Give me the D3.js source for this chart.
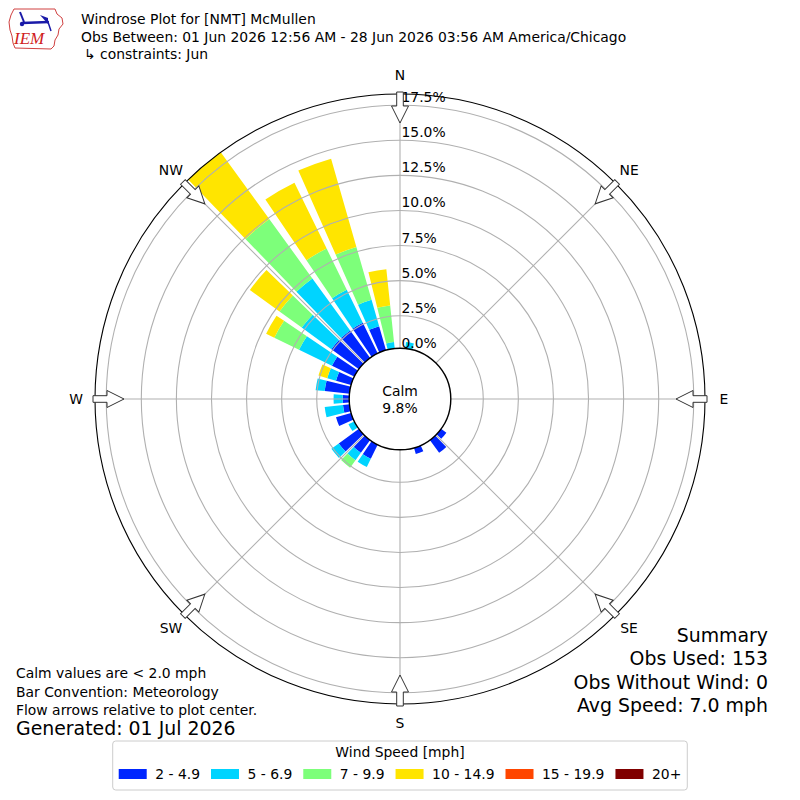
<!DOCTYPE html>
<html lang="en">
<head>
<meta charset="UTF-8">
<title>Windrose Plot for [NMT] McMullen</title>
<script src="https://cdnjs.cloudflare.com/ajax/libs/d3/7.8.5/d3.min.js"></script>
<style>
  html, body { margin: 0; padding: 0; background: #fff; }
  svg { display: block; font-family: "DejaVu Sans", sans-serif; }
</style>
</head>
<body>
<div id="chart"></div>
<script>
// 10 degree direction bins (meteorological, wind FROM) that have obs
var directions = [10, 130, 140, 160, 210, 220, 230, 240, 250, 260, 270, 280, 290, 300, 310, 320, 330, 340, 350];
// percent of all obs, one array per speed bin, same order as directions
var spd2to5   = [0, 0.65, 1.31, 0.65, 1.31, 1.31, 1.96, 0, 1.31, 0.65, 0.65, 1.96, 1.31, 1.96, 2.61, 2.61, 2.61, 1.96, 0];
var spd5to7   = [0.65, 0, 0, 0, 0.65, 0.65, 0.65, 0.65, 0, 1.31, 0.65, 0.65, 0.65, 2.61, 2.61, 4.58, 2.61, 1.96, 0.65];
var spd7to10  = [0, 0, 0, 0, 0, 0.65, 0, 0, 0, 0, 0, 0, 0, 1.96, 1.96, 5.23, 3.27, 3.92, 2.61];
var spd10to15 = [0, 0, 0, 0, 0, 0, 0, 0, 0, 0, 0, 0, 0.65, 0.65, 2.61, 5.88, 5.23, 6.54, 2.61];
var spd15to20 = [0, 0, 0, 0, 0, 0, 0, 0, 0, 0, 0, 0, 0, 0, 0, 0, 0, 0, 0];
var spd20up   = [0, 0, 0, 0, 0, 0, 0, 0, 0, 0, 0, 0, 0, 0, 0, 0, 0, 0, 0];

var speedLabels = ["2 - 4.9", "5 - 6.9", "7 - 9.9", "10 - 14.9", "15 - 19.9", "20+"];
var speedColors = ["#0026ff", "#00d4ff", "#7dff7a", "#ffe500", "#ff4600", "#800000"];
var rTicks = [0, 2.5, 5, 7.5, 10, 12.5, 15, 17.5];
var compass = ["N", "NE", "E", "SE", "S", "SW", "W", "NW"];
var calmPct = 9.8;

var titleLines = ["Windrose Plot for [NMT] McMullen",
  "Obs Between: 01 Jun 2026 12:56 AM - 28 Jun 2026 03:56 AM America/Chicago",
  "\u21b3 constraints: Jun"];
var noteLines = ["Calm values are < 2.0 mph", "Bar Convention: Meteorology", "Flow arrows relative to plot center."];
var summaryLines = ["Summary", "Obs Used: 153", "Obs Without Wind: 0", "Avg Speed: 7.0 mph"];

var W = 800, H = 800;
var cx = 400, cy = 399;
var outerR = 305;

var svg = d3.select("#chart").append("svg")
  .attr("width", W).attr("height", H);

// stack the speed bins per direction
var series = [spd2to5, spd5to7, spd7to10, spd10to15, spd15to20, spd20up];
var bars = [];
directions.forEach(function(dir, i) {
  var lo = 0;
  series.forEach(function(s, k) {
    var v = s[i];
    if (v > 0) bars.push({dir: dir, lo: lo, hi: lo + v, k: k});
    lo += v;
  });
});
var rMax = d3.max(directions, function(d, i) {
  return d3.sum(series, function(s) { return s[i]; });
});

var rScale = d3.scaleLinear().domain([0, rMax]).range([48.2, outerR]);
var rad = function(deg) { return deg * Math.PI / 180; };

var g = svg.append("g").attr("transform", "translate(" + cx + "," + cy + ")");

// bars
var arc = d3.arc()
  .innerRadius(function(d) { return rScale(d.lo); })
  .outerRadius(function(d) { return rScale(d.hi); })
  .startAngle(function(d) { return rad(d.dir - 4); })
  .endAngle(function(d) { return rad(d.dir + 4); });

g.selectAll("path.bar").data(bars).enter().append("path")
  .attr("class", "bar")
  .attr("d", arc)
  .attr("fill", function(d) { return speedColors[d.k]; });

// grid rings + spokes on top of bars
g.selectAll("circle.ring").data(rTicks.slice(1)).enter().append("circle")
  .attr("r", function(d) { return rScale(d); })
  .attr("fill", "none").attr("stroke", "#b0b0b0").attr("stroke-width", 1.1);

g.selectAll("line.spoke").data(d3.range(0, 360, 45)).enter().append("line")
  .attr("x1", function(d) { return rScale(0) * Math.sin(rad(d)); })
  .attr("y1", function(d) { return -rScale(0) * Math.cos(rad(d)); })
  .attr("x2", function(d) { return outerR * Math.sin(rad(d)); })
  .attr("y2", function(d) { return -outerR * Math.cos(rad(d)); })
  .attr("stroke", "#b0b0b0").attr("stroke-width", 1.1);

g.append("circle").attr("r", outerR)
  .attr("fill", "none").attr("stroke", "#000").attr("stroke-width", 1.1);

// percent labels along north spoke
g.selectAll("text.rlab").data(rTicks).enter().append("text")
  .attr("x", 1.5)
  .attr("y", function(d) { return -rScale(d) - 8; })
  .attr("dominant-baseline", "central")
  .attr("font-size", "13.9px")
  .text(function(d) { return d.toFixed(1) + "%"; });

// calm circle
g.append("circle").attr("r", 50.8)
  .attr("fill", "#fff").attr("stroke", "#000").attr("stroke-width", 1.4);
g.append("text").attr("y", -8).attr("text-anchor", "middle").attr("dominant-baseline", "central")
  .attr("font-size", "13.9px").text("Calm");
g.append("text").attr("y", 9).attr("text-anchor", "middle").attr("dominant-baseline", "central")
  .attr("font-size", "13.9px").text(calmPct.toFixed(1) + "%");

// flow arrows pointing to center
var arrowPts = [[-3.3, -307], [3.3, -307], [3.3, -293], [8.5, -293], [0, -276], [-8.5, -293], [-3.3, -293]];
g.selectAll("path.arrow").data(d3.range(0, 360, 45)).enter().append("path")
  .attr("d", "M" + arrowPts.map(function(p) { return p.join(","); }).join("L") + "Z")
  .attr("transform", function(d) { return "rotate(" + d + ")"; })
  .attr("fill", "#fff").attr("stroke", "#333").attr("stroke-width", 1);

// compass labels
g.selectAll("text.cmp").data(compass).enter().append("text")
  .attr("x", function(d, i) { return 324 * Math.sin(rad(i * 45)); })
  .attr("y", function(d, i) { return -324 * Math.cos(rad(i * 45)); })
  .attr("text-anchor", "middle").attr("dominant-baseline", "central")
  .attr("font-size", "13.9px")
  .text(function(d) { return d; });

// title
svg.selectAll("text.title").data(titleLines).enter().append("text")
  .attr("x", function(d, i) { return i == 2 ? 84 : 81; })
  .attr("y", function(d, i) { return 19 + i * 17.6; })
  .attr("dominant-baseline", "central")
  .attr("font-size", "13.9px")
  .text(function(d) { return d; });

// IEM logo (rough)
var logo = svg.append("g");
logo.append("path")
  .attr("d", "M14,9 L55,9 L57,14 L62,18 L63,24 L59,29 L58,35 L55,40 L54,46 L51,49 L15,48 L13,43 L12,36 L10,30 L9,22 L11,15 Z")
  .attr("fill", "none").attr("stroke", "#d04040").attr("stroke-width", 1);
logo.append("line").attr("x1", 22).attr("y1", 23).attr("x2", 49).attr("y2", 22)
  .attr("stroke", "#1a1aa8").attr("stroke-width", 2.5);
logo.append("line").attr("x1", 20).attr("y1", 12).attr("x2", 24).attr("y2", 22)
  .attr("stroke", "#1a1aa8").attr("stroke-width", 2);
logo.append("circle").attr("cx", 22).attr("cy", 24).attr("r", 2.2).attr("fill", "#1a1aa8");
logo.append("path").attr("d", "M40,15 L48,18 L48,24 Z").attr("fill", "#1a1aa8");
logo.append("line").attr("x1", 48).attr("y1", 22).attr("x2", 51).attr("y2", 31)
  .attr("stroke", "#1a1aa8").attr("stroke-width", 1.5);
logo.append("text").attr("x", 14).attr("y", 44)
  .attr("font-family", "Liberation Serif, serif").attr("font-style", "italic")
  .attr("font-size", "17px").attr("fill", "#d02020").text("IEM");

// notes bottom-left
svg.selectAll("text.note").data(noteLines).enter().append("text")
  .attr("x", 16)
  .attr("y", function(d, i) { return 673 + i * 18.5; })
  .attr("dominant-baseline", "central")
  .attr("font-size", "13.9px")
  .text(function(d) { return d; });
svg.append("text").attr("x", 16).attr("y", 728).attr("dominant-baseline", "central")
  .attr("font-size", "18.9px").text("Generated: 01 Jul 2026");

// summary bottom-right
svg.selectAll("text.sum").data(summaryLines).enter().append("text")
  .attr("x", 768)
  .attr("y", function(d, i) { return 635 + i * 23.4; })
  .attr("text-anchor", "end").attr("dominant-baseline", "central")
  .attr("font-size", "18.9px")
  .text(function(d) { return d; });

// legend
var leg = svg.append("g");
var legBox = leg.append("rect").attr("y", 741).attr("height", 49).attr("rx", 3)
  .attr("fill", "#fff").attr("stroke", "#cccccc").attr("stroke-width", 1);
leg.append("text").attr("x", 400).attr("y", 752).attr("text-anchor", "middle")
  .attr("dominant-baseline", "central").attr("font-size", "13.9px").text("Wind Speed [mph]");

var items = leg.selectAll("g.item").data(speedLabels).enter().append("g");
items.append("rect").attr("width", 28).attr("height", 10).attr("y", 769)
  .attr("fill", function(d, i) { return speedColors[i]; });
items.append("text").attr("y", 774).attr("x", 36.5)
  .attr("dominant-baseline", "central").attr("font-size", "13.9px")
  .text(function(d) { return d; });
var widths = [];
items.select("text").each(function() { widths.push(this.getComputedTextLength()); });
var total = d3.sum(widths) + widths.length * 36.5 + (widths.length - 1) * 11;
var xPos = 400 - total / 2;
items.each(function(d, i) {
  d3.select(this).attr("transform", "translate(" + xPos + ",0)");
  xPos += 36.5 + widths[i] + 11;
});
legBox.attr("x", 400 - total / 2 - 6).attr("width", total + 12);
</script>
</body>
</html>
